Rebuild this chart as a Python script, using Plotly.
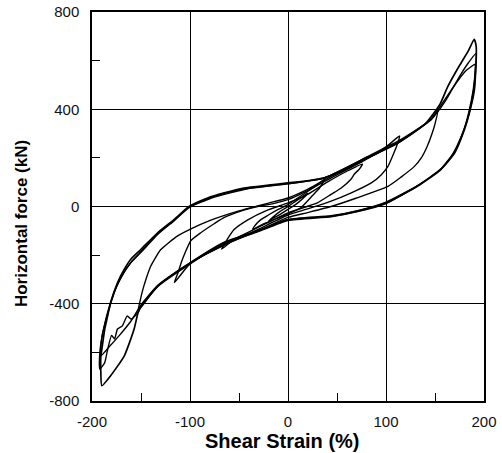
import plotly.graph_objects as go

# ---- data (shear strain %, horizontal force kN) ----
# outer loop, cycle 1 (+-190 %)
outer1_x = [-190, -191, -191, -189, -187, -184, -181, -174, -167, -160, -150, -133, -116, -101, -82, -65, -45, -20, 0, 20, 37, 60, 81, 112, 140, 155, 163, 175, 184, 190,
            192, 192, 191, 190, 185, 180, 170, 156, 132, 100, 71, 44, 0, -31, -65, -99, -133, -150, -153, -157, -167, -181, -190]
outer1_y = [-737, -680, -620, -560, -504, -450, -395, -314, -258, -215, -176, -108, -53, 0, 35, 56, 76, 88, 97, 106, 118, 155, 200, 261, 340, 420, 493, 580, 640, 688,
            660, 600, 540, 493, 384, 316, 220, 152, 83, 15, -19, -40, -55, -101, -149, -231, -327, -409, -436, -504, -614, -696, -737]

# outer loop, cycle 2
outer2_x = [-192, -192, -190, -188, -183, -177, -170, -160, -148, -133, -116, -101, -80, -60, -40, 0, 37, 81, 115, 146, 160, 173, 183, 192,
            192, 190, 184, 178, 168, 155, 130, 100, 70, 44, 0, -31, -65, -99, -133, -150, -153, -160, -164, -169, -174, -177, -180, -184, -187, -192]
outer2_y = [-669, -600, -540, -500, -420, -350, -290, -230, -180, -115, -58, -5, 32, 55, 74, 93, 118, 205, 275, 357, 430, 521, 585, 630,
            600, 470, 370, 300, 215, 150, 80, 12, -22, -42, -58, -104, -152, -234, -330, -412, -436, -463, -450, -491, -504, -545, -530, -587, -642, -669]

# outer loop, cycle 3
outer3_x = [-191, -190, -186, -181, -175, -168, -160, -150, -133, -116, -101, -82, -65, -45, -20, 0, 37, 81, 112, 146, 160, 172, 182, 191,
            191, 189, 184, 179, 170, 157, 133, 100, 71, 44, 0, -31, -65, -99, -133, -150, -160, -172, -182, -191]
outer3_y = [-614, -540, -470, -400, -330, -275, -228, -185, -112, -56, -3, 32, 54, 73, 85, 94, 117, 203, 263, 360, 440, 510, 560, 585,
            560, 480, 380, 310, 225, 158, 88, 18, -17, -38, -53, -100, -147, -229, -325, -405, -470, -530, -575, -614]

# +-150 % loop
loop150_x = [-153, -151, -148, -145, -140, -130, -113, -99, -80, -50, -20, 0, 20, 44, 78, 112, 146, 153,
             150, 147, 142, 136, 129, 115, 102, 70, 44, 20, 0, -31, -68, -99, -133, -153]
loop150_y = [-430, -390, -340, -300, -245, -178, -122, -92, -58, -18, 14, 35, 70, 124, 193, 261, 357, 398,
             340, 300, 247, 200, 165, 120, 83, 35, 0, -25, -45, -101, -163, -231, -327, -430]

# +-115 % loop
loop115_x = [-116, -112, -109, -105, -99, -89, -75, -65, -45, -31, -15, 0, 20, 44, 78, 100, 114,
             111, 108, 102, 95, 85, 64, 44, 20, 0, -31, -68, -99, -116]
loop115_y = [-313, -270, -231, -190, -140, -108, -70, -45, -15, 0, 12, 28, 65, 118, 190, 245, 290,
             250, 220, 165, 130, 97, 55, 22, -10, -35, -95, -165, -231, -313]

# +-75 % loop
loop75_x = [-68, -65, -62, -55, -41, -21, 0, 20, 40, 60, 76,
            72, 68, 64, 54, 44, 30, 0, -30, -55, -68]
loop75_y = [-176, -155, -135, -95, -55, -15, 15, 50, 100, 145, 175,
            150, 135, 111, 75, 50, 15, -26, -85, -135, -176]

# +-40 % loop
loop40_x = [-36, -33, -28, -20, -10, 0, 10, 25, 38,
            36, 32, 25, 13, 0, -12, -25, -36]
loop40_y = [-94, -75, -55, -35, -12, 8, 35, 75, 115,
            100, 75, 45, -5, -30, -50, -72, -94]

# +-20 % loop
loop20_x = [-20, -15, -8, 0, 8, 15, 20, 17, 10, 0, -8, -15, -20]
loop20_y = [-60, -42, -20, 0, 22, 40, 55, 40, 15, -12, -32, -48, -60]

x_ticks = [-200, -100, 0, 100, 200]
y_ticks = [-800, -400, 0, 400, 800]

loops = [
    (outer1_x, outer1_y, 1.7),
    (outer2_x, outer2_y, 1.4),
    (outer3_x, outer3_y, 1.4),
    (loop150_x, loop150_y, 1.4),
    (loop115_x, loop115_y, 1.4),
    (loop75_x, loop75_y, 1.4),
    (loop40_x, loop40_y, 1.4),
    (loop20_x, loop20_y, 1.4),
]

fig = go.Figure()
for lx, ly, w in loops:
    fig.add_trace(go.Scatter(x=lx, y=ly, mode="lines",
                             line=dict(color="black", width=w, shape="spline", smoothing=0.5),
                             showlegend=False, hoverinfo="skip"))

font_family = "Liberation Sans, Arial, sans-serif"
fig.update_layout(
    width=502, height=453,
    margin=dict(l=92, r=18, t=12, b=52, autoexpand=False),
    paper_bgcolor="white", plot_bgcolor="white",
    font=dict(family=font_family, color="#111111", size=15),
    showlegend=False,
    annotations=[
        dict(text="<b>Shear Strain (%)</b>", xref="paper", yref="paper", x=0.485, y=-0.103,
             showarrow=False, xanchor="center", yanchor="middle",
             font=dict(size=20, family=font_family, color="black")),
        dict(text="<b>Horizontal force (kN)</b>", xref="paper", yref="paper", x=-0.181, y=0.455,
             showarrow=False, xanchor="center", yanchor="middle", textangle=-90,
             font=dict(size=17, family=font_family, color="black")),
    ],
)
fig.update_xaxes(
    range=[-200, 200], tickvals=x_ticks, ticktext=[str(v) for v in x_ticks],
    showgrid=True, gridcolor="black", gridwidth=1.3, zeroline=False,
    showline=True, linecolor="black", linewidth=1.5, mirror=True,
    ticks="", ticklabelstandoff=6, automargin=False,
    minor=dict(tickvals=[-150, -50, 50, 150], ticks="inside", ticklen=8, tickcolor="black", tickwidth=1.3, showgrid=False),
    tickfont=dict(size=15),
)
fig.update_yaxes(
    range=[-800, 800], tickvals=y_ticks, ticktext=[str(v) for v in y_ticks],
    showgrid=True, gridcolor="black", gridwidth=1.3, zeroline=False,
    showline=True, linecolor="black", linewidth=1.5, mirror=True,
    ticks="", ticklabelstandoff=8, automargin=False,
    minor=dict(tickvals=[-600, -200, 200, 600], ticks="inside", ticklen=8, tickcolor="black", tickwidth=1.3, showgrid=False),
    tickfont=dict(size=15),
)

fig.write_html("out.html", config={"displayModeBar": False},
               post_script="document.body.style.margin='0';document.body.style.overflow='hidden';")
